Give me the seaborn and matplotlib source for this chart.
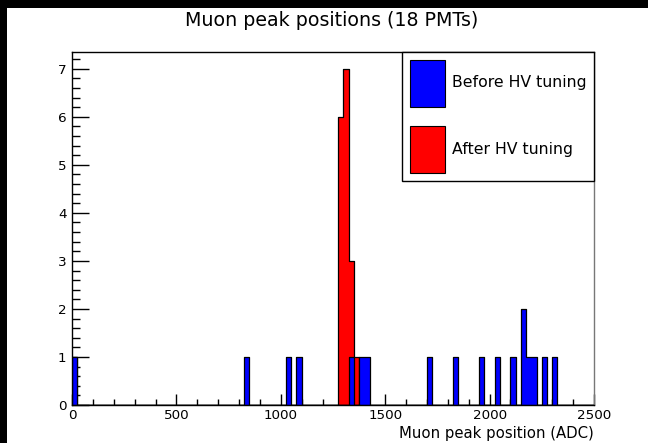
import numpy as np
import pandas as pd
import matplotlib
matplotlib.use("Agg")
import matplotlib.pyplot as plt
import seaborn as sns
from matplotlib.patches import Patch, Rectangle
from matplotlib.ticker import MultipleLocator

# Peak positions (ADC) of the 18 PMTs (bin width 25 ADC)
before_hv = [10, 835, 1040, 1085, 1335, 1385, 1410, 1710, 1835, 1960,
             2035, 2110, 2160, 2165, 2185, 2210, 2260, 2310]
after_hv = [10, 1280, 1285, 1285, 1290, 1290, 1295,
            1305, 1305, 1310, 1310, 1315, 1315, 1320,
            1330, 1335, 1345, 1360]
bin_edges = np.arange(0, 2525, 25)
series_labels = ["Before HV tuning", "After HV tuning"]
series_colors = ["#0000ff", "#ff0000"]
title = "Muon peak positions (18 PMTs)"
xlabel = "Muon peak position (ADC)"

sns.set_theme(style="white")
plt.rcParams["font.family"] = ["DejaVu Sans"]
plt.rcParams["text.color"] = "black"
plt.rcParams["xtick.color"] = "black"
plt.rcParams["ytick.color"] = "black"
plt.rcParams["axes.labelcolor"] = "black"

fig = plt.figure(figsize=(6.48, 4.43), dpi=100)
fig.patch.set_facecolor("white")
# black frame strips (top and left) as in the reference canvas
fig.patches.append(Rectangle((0, 1 - 8 / 443), 1, 8 / 443, transform=fig.transFigure,
                             facecolor="black", edgecolor="none", zorder=-1))
fig.patches.append(Rectangle((0, 0), 7 / 648, 1, transform=fig.transFigure,
                             facecolor="black", edgecolor="none", zorder=-1))

ax = fig.add_axes([72 / 648, 1 - 405 / 443, (594 - 72) / 648, (405 - 52) / 443])

# red first, then blue on top
sns.histplot(x=after_hv, bins=bin_edges, element="step", fill=True,
             color=series_colors[1], alpha=1, edgecolor="black", linewidth=0.9, ax=ax)
sns.histplot(x=before_hv, bins=bin_edges, element="step", fill=True,
             color=series_colors[0], alpha=1, edgecolor="black", linewidth=0.9, ax=ax)

ax.set_xlim(0, 2500)
ax.set_ylim(0, 7.35)
ax.set_ylabel("")
ax.set_xlabel(xlabel, loc="right", fontsize=10.7, labelpad=3, color="black")

ax.xaxis.set_major_locator(MultipleLocator(500))
ax.xaxis.set_minor_locator(MultipleLocator(100))
ax.yaxis.set_major_locator(MultipleLocator(1))
ax.yaxis.set_minor_locator(MultipleLocator(0.2))
ax.tick_params(axis="x", which="major", direction="in", length=8, width=1,
               bottom=True, top=False, labelsize=9.7, pad=3, color="black",
               labelcolor="black")
ax.tick_params(axis="x", which="minor", direction="in", length=4, width=1,
               bottom=True, top=False, color="black")
ax.tick_params(axis="y", which="major", direction="in", length=12, width=1,
               left=True, right=False, labelsize=9.7, pad=4, color="black",
               labelcolor="black")
ax.tick_params(axis="y", which="minor", direction="in", length=6, width=1,
               left=True, right=False, color="black")
for s in ax.spines.values():
    s.set_color("black")
    s.set_linewidth(1)
ax.spines["right"].set_color("#777777")

handles = [Patch(facecolor=series_colors[0], edgecolor="black", linewidth=0.8),
           Patch(facecolor=series_colors[1], edgecolor="black", linewidth=0.8)]
leg = ax.legend(handles, series_labels, loc="upper right", bbox_to_anchor=(1.0, 1.0),
                borderaxespad=0, fancybox=False, framealpha=1, edgecolor="black",
                fontsize=11.3, handlelength=2.23, handleheight=4.2, handletextpad=0.45,
                labelspacing=1.27, borderpad=0.5)
leg.get_frame().set_linewidth(1)
for t in leg.get_texts():
    t.set_color("black")

fig.text(332 / 648, 1 - 21 / 443, title, ha="center", va="center", fontsize=13.7,
         color="black")

fig.savefig("out.png", dpi=100)
